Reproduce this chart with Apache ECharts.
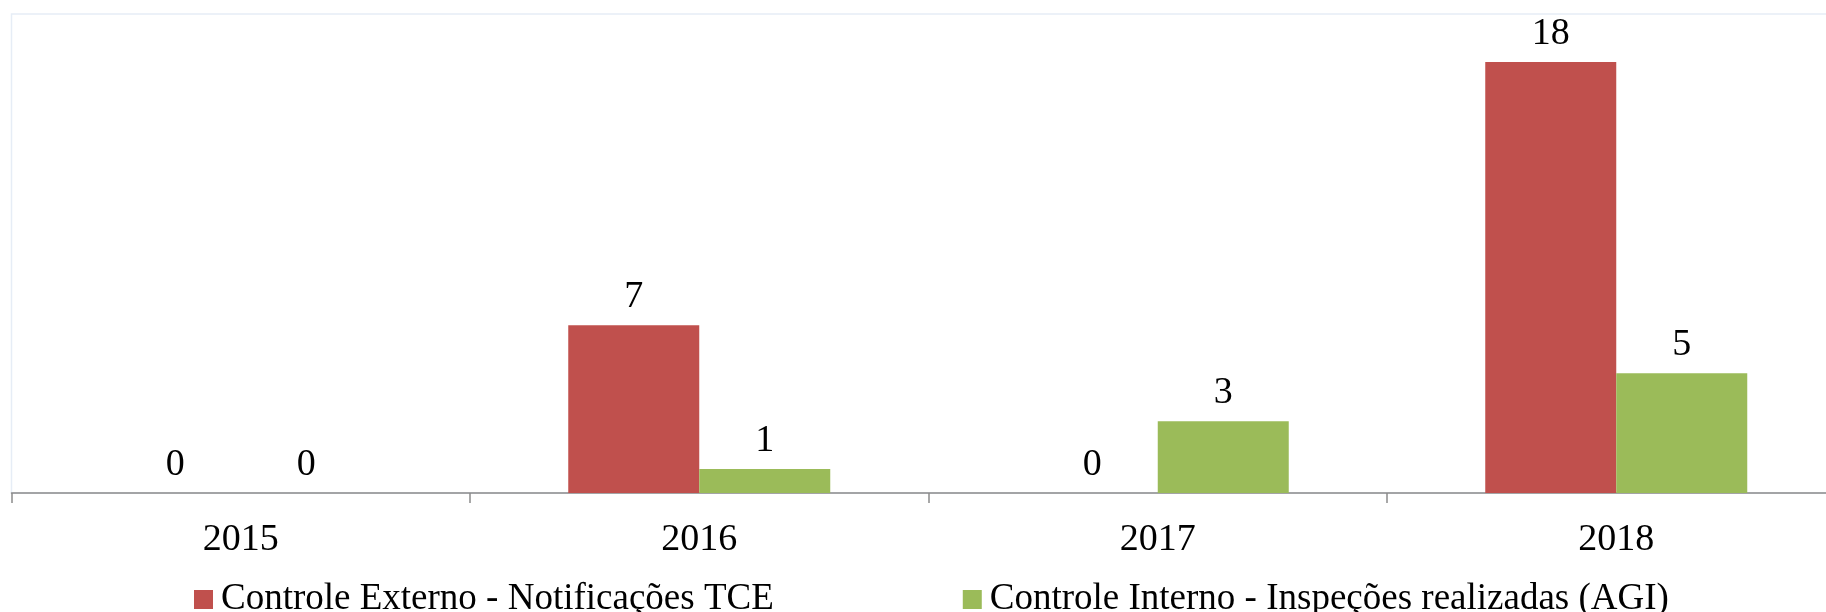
<!DOCTYPE html>
<html lang="pt">
<head>
<meta charset="utf-8">
<title>Controle Externo x Controle Interno</title>
<script src="https://cdn.jsdelivr.net/npm/echarts@6.0.0/dist/echarts.min.js"></script>
<style>
  html, body { margin: 0; padding: 0; background: #fff; }
  #chart { width: 1826px; height: 612px; }
</style>
</head>
<body>
<div id="chart"></div>
<script>
const years = ["2015", "2016", "2017", "2018"];
const externoValues = [0, 7, 0, 18];
const internoValues = [0, 1, 3, 5];
const seriesNames = [
  "Controle Externo - Notificações TCE",
  "Controle Interno - Inspeções realizadas (AGI)",
];

const FONT = "'Liberation Serif', 'Times New Roman', serif";
const COLORS = { externo: "#C0504D", interno: "#9BBB59" };

function buildSeries(name, data, color) {
  return {
    name,
    type: "bar",
    data,
    barWidth: 131,
    barGap: "0%",
    itemStyle: { color },
    label: {
      show: true,
      position: "top",
      distance: 9,
      color: "#000",
      fontFamily: FONT,
      fontSize: 38,
    },
  };
}

function renderChart() {
  const chart = echarts.init(document.getElementById("chart"));
  chart.setOption({
    animation: false,
    grid: {
      left: 11.5,
      top: 14,
      width: 1834,
      height: 479,
      outerBoundsMode: "none",
      containLabel: false,
      show: true,
      borderColor: "#e6edf6",
      borderWidth: 1.5,
      backgroundColor: "transparent",
    },
    legend: {
      data: seriesNames,
      left: 189,
      top: 576,
      icon: "rect",
      itemWidth: 19,
      itemHeight: 19,
      itemGap: 189,
      textStyle: {
        color: "#000",
        fontFamily: FONT,
        fontSize: 37,
        padding: [0, 0, 0, 3],
      },
    },
    xAxis: {
      type: "category",
      data: years,
      axisLine: { lineStyle: { color: "#8c8c8c", width: 1.5 } },
      axisTick: { show: true, length: 10, lineStyle: { color: "#8c8c8c", width: 1.5 } },
      axisLabel: {
        color: "#000",
        fontFamily: FONT,
        fontSize: 38,
        margin: 28,
      },
    },
    yAxis: {
      type: "value",
      min: 0,
      max: 20,
      show: false,
      splitLine: { show: false },
    },
    series: [
      buildSeries(seriesNames[0], externoValues, COLORS.externo),
      buildSeries(seriesNames[1], internoValues, COLORS.interno),
    ],
  });
}

renderChart();
</script>
</body>
</html>
